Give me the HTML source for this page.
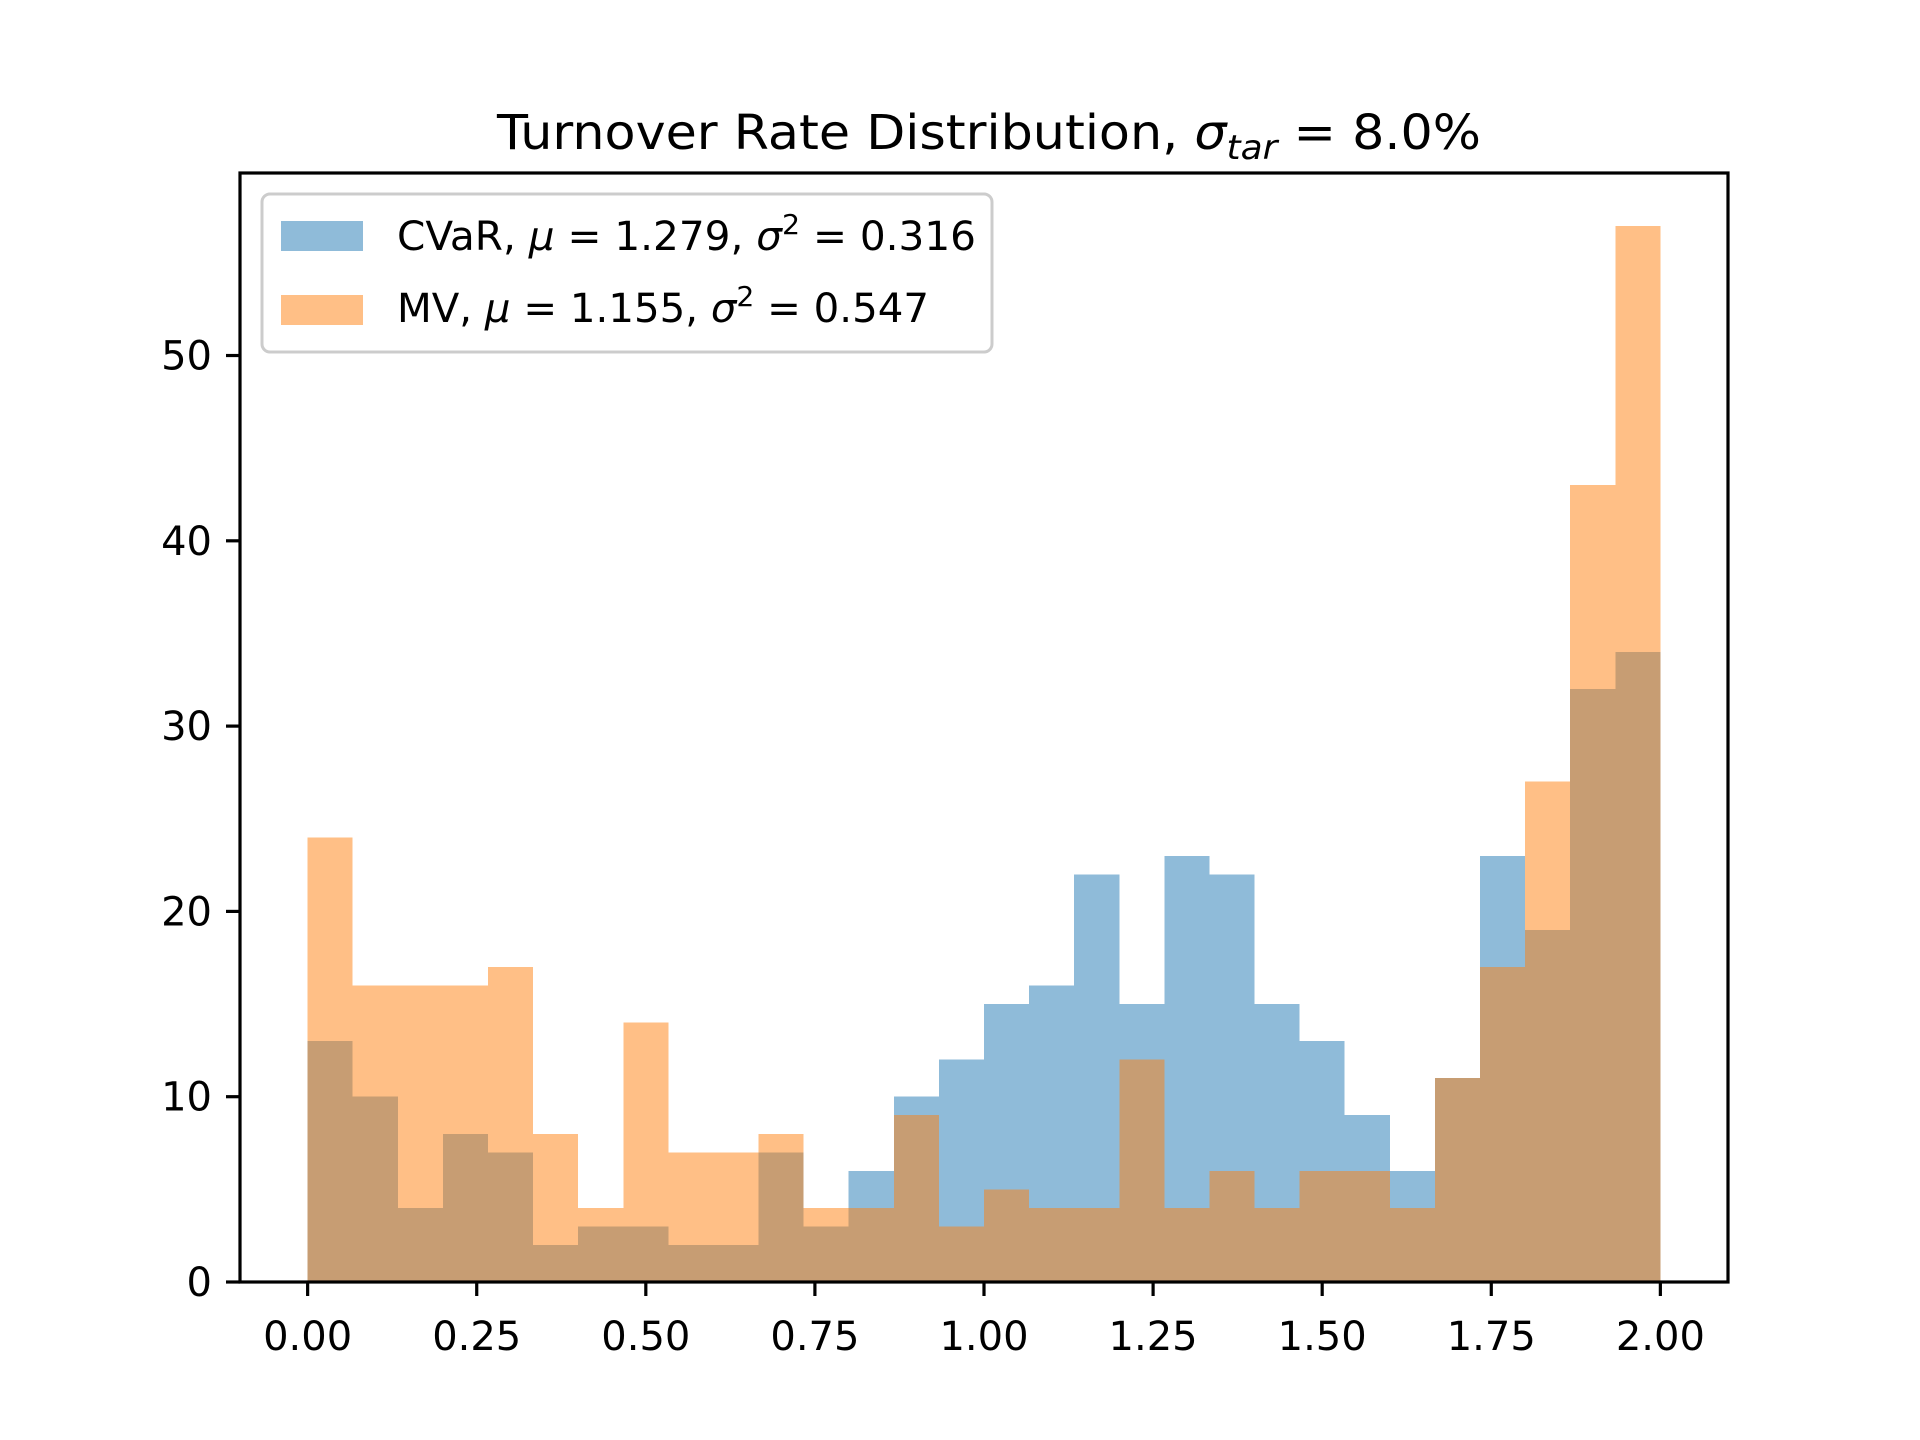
<!DOCTYPE html>
<html><head><meta charset="utf-8"><style>body{margin:0;background:#fff}svg{display:block}text{font-family:"DejaVu Sans","Liberation Sans",sans-serif}</style></head>
<body>
<svg id="chart" width="1920" height="1440" viewBox="0 0 1920 1440" xmlns="http://www.w3.org/2000/svg">
<rect width="1920" height="1440" fill="#fff"/>
<text x="989" y="149" font-size="48" text-anchor="middle" textLength="984" lengthAdjust="spacingAndGlyphs">Turnover Rate Distribution, <tspan font-style="italic">σ</tspan><tspan font-style="italic" font-size="34" dy="10">tar</tspan><tspan dy="-10"> = 8.0%</tspan></text>
<g id="bars" shape-rendering="crispEdges"></g>
<g id="axes"></g>
<g>
<rect x="262" y="194" width="730" height="158" rx="8" fill="#fff" fill-opacity="0.8" stroke="#ccc" stroke-width="3"/>
<rect x="281" y="221" width="82" height="30" fill="#1f77b4" fill-opacity="0.5"/>
<text x="397" y="250" font-size="40" textLength="579" lengthAdjust="spacingAndGlyphs">CVaR, <tspan font-style="italic">μ</tspan> = 1.279, <tspan font-style="italic">σ</tspan><tspan font-size="28" dy="-16">2</tspan><tspan dy="16"> = 0.316</tspan></text>
<rect x="281" y="295" width="82" height="30" fill="#ff7f0e" fill-opacity="0.5"/>
<text x="397" y="322" font-size="40" textLength="532" lengthAdjust="spacingAndGlyphs">MV, <tspan font-style="italic">μ</tspan> = 1.155, <tspan font-style="italic">σ</tspan><tspan font-size="28" dy="-16">2</tspan><tspan dy="16"> = 0.547</tspan></text>
</g>
</svg>
<script>
const binEdgesStart = 0, binEdgesEnd = 2, binCount = 30;
const cvarCounts = [13,10,4,8,7,2,3,3,2,2,7,3,6,10,12,15,16,22,15,23,22,15,13,9,6,11,23,19,32,34];
const mvCounts = [24,16,16,16,17,8,4,14,7,7,8,4,4,9,3,5,4,4,12,4,6,4,6,6,4,11,17,27,43,57];
const xTicks = [0,0.25,0.5,0.75,1,1.25,1.5,1.75,2];
const xTickLabels = ["0.00","0.25","0.50","0.75","1.00","1.25","1.50","1.75","2.00"];
const yTicks = [0,10,20,30,40,50];

const L=240,R=1728,T=173,B=1282;
const xMin=-0.1,xMax=2.1;
const yMax=Math.max(...cvarCounts,...mvCounts)*1.05;
const X=v=>L+(v-xMin)/(xMax-xMin)*(R-L);
const Y=v=>B-v/yMax*(B-T);
const NS="http://www.w3.org/2000/svg";
function mk(tag,attrs,parent){const e=document.createElementNS(NS,tag);for(const k in attrs)e.setAttribute(k,attrs[k]);parent.appendChild(e);return e;}
const bars=document.getElementById('bars');
const w=(binEdgesEnd-binEdgesStart)/binCount;
function drawSeries(counts,color,name){
  counts.forEach((c,i)=>{
    const x0=X(binEdgesStart+i*w),x1=X(binEdgesStart+(i+1)*w);
    const r=mk('rect',{x:x0,y:Y(c),width:x1-x0,height:B-Y(c),fill:color,'fill-opacity':0.5},bars);
    
    
  });
}
drawSeries(cvarCounts,'#1f77b4','cvar');
drawSeries(mvCounts,'#ff7f0e','mv');
const ax=document.getElementById('axes');
const frame=mk('rect',{x:L,y:T,width:R-L,height:B-T,fill:'none',stroke:'#000','stroke-width':3.2},ax);


xTicks.forEach((v,i)=>{
  const t=mk('line',{x1:X(v),x2:X(v),y1:B,y2:B+14,stroke:'#000','stroke-width':3.2},ax);
  
  
  const lb=mk('text',{x:X(v),y:1350,'font-size':40,'text-anchor':'middle'},ax);
  lb.textContent=xTickLabels[i];
  
  
});
yTicks.forEach(v=>{
  const t=mk('line',{x1:L-14,x2:L,y1:Y(v),y2:Y(v),stroke:'#000','stroke-width':3.2},ax);
  
  
  const lb=mk('text',{x:212,y:Y(v)+14,'font-size':40,'text-anchor':'end'},ax);
  lb.textContent=String(v);
  
  
});
</script>
</body></html>
